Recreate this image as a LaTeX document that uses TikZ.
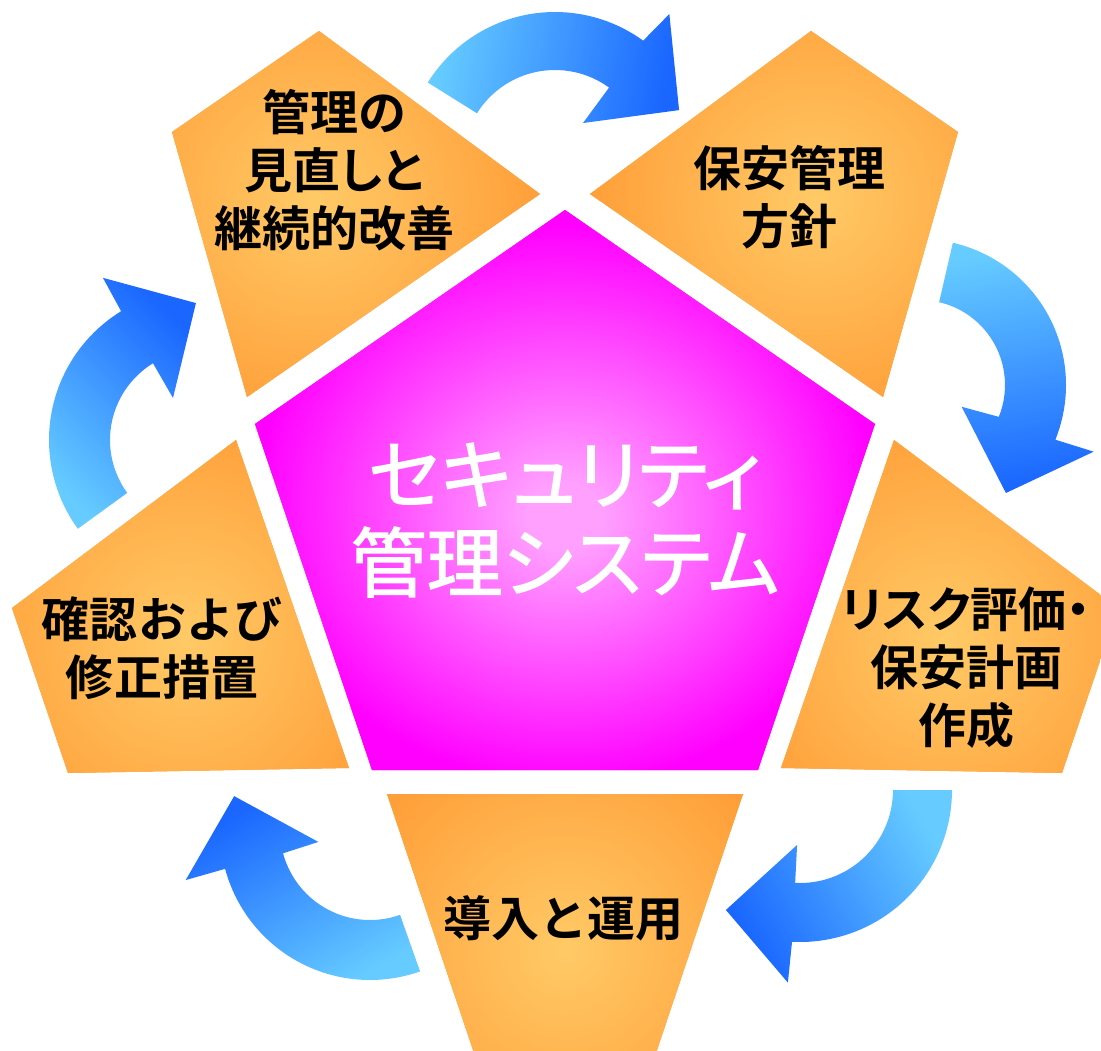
\documentclass[tikz,border=0pt]{standalone}
\usepackage{fontspec}
\newfontfamily\jpb{Noto Sans CJK JP Bold}
\newfontfamily\jpbp[RawFeature=+palt]{Noto Sans CJK JP Bold}
\newfontfamily\jpr[RawFeature=+palt, FakeBold=1.6]{Noto Sans CJK JP}
\usetikzlibrary{calc}
\definecolor{orL}{HTML}{FFCA66}
\definecolor{orD}{HTML}{FF9933}
\definecolor{mgL}{HTML}{FFA0FF}
\definecolor{mgD}{HTML}{FF00FF}
\definecolor{blL}{HTML}{66CCFF}
\definecolor{blD}{HTML}{1A66FF}
\pgfdeclareradialshading{glowor}{\pgfpoint{0bp}{0bp}}{color(0bp)=(orL); color(23bp)=(orD); color(50bp)=(orD)}
\pgfdeclareradialshading{glowmg}{\pgfpoint{0bp}{-2.5bp}}{color(0bp)=(mgL); color(3bp)=(mgL); color(25bp)=(mgD); color(50bp)=(mgD)}
\tikzset{
  lbl/.style={font=\jpb\fontsize{48bp}{58bp}\selectfont, align=center, text=black, inner sep=0pt},
  lblp/.style={lbl, font=\jpbp\fontsize{48bp}{58bp}\selectfont},
  titletext/.style={font=\jpr\fontsize{76bp}{88bp}\selectfont, align=center, text=white, inner sep=0pt},
  arrowshade/.style={top color=blL, bottom color=blD, shading angle=#1},
}
% #1 centre, #2 outer radius, #3 inner radius, #4 tail angle, #5 notch angle,
% #6 outer head corner, #7 inner head corner, #8 tip, #9 shading angle
\newcommand\cyclearrow[9]{%
  \shade[arrowshade=#9] ($#1+(#4:#2)$) arc[start angle=#4, end angle=#5, radius=#2]
    -- ($#1+(#6)$) -- ($#1+(#8)$) -- ($#1+(#7)$) -- ($#1+(#5:#3)$)
    arc[start angle=#5, end angle=#4, radius=#3] -- cycle;}
\newcommand\orangepiece[2]{%
  \begin{scope}
    \clip #1 -- cycle;
    \fill[orD] (0,0) rectangle (1101,1051);
    \shade[shading=glowor] #2 circle (280);
  \end{scope}}
\begin{document}
\begin{tikzpicture}[x=1bp, y=-1bp]
\useasboundingbox (0,0) rectangle (1101,1051);
\fill[white] (0,0) rectangle (1101,1051);
\clip (0,0) rectangle (1101,1051);

% central pentagon
\fill[mgD] (565,210) -- (875,424) -- (758,770) -- (372,770) -- (255,424) -- cycle;
\shade[shading=glowmg] (565,210) -- (875,424) -- (758,770) -- (372,770) -- (255,424) -- cycle;

% orange pieces
\orangepiece{(319,31) -- (172,132) -- (247,397) -- (540,194)}{(314,200)}
\orangepiece{(811,31) -- (958,132) -- (883,397) -- (590,194)}{(816,200)}
\orangepiece{(894,440) -- (1118,608) -- (1062,773) -- (781,768)}{(946,640)}
\orangepiece{(387,794) -- (743,794) -- (653,1062) -- (477,1062)}{(565,950)}
\orangepiece{(236,440) -- (12,608) -- (68,773) -- (349,768)}{(184,640)}

% circular arrows
\cyclearrow{(555,162)}{150}{92}{212}{306}{307.7:187}{305.7:48}{337.3:134.5}{80}
\cyclearrow{(920,385)}{146}{85}{-77}{22}{21:186}{27.6:47}{51.5:138}{10}
\cyclearrow{(800,790)}{152}{93}{0}{93}{93.6:193}{93:55}{121.7:141}{-60}
\cyclearrow{(370,830)}{150}{90}{70.5}{165}{164.8:191}{167:53}{194:140}{-150}
\cyclearrow{(200,440)}{151}{90}{144}{238.5}{239.1:189}{237.3:50}{268.3:137}{135}

% texts
\node[titletext] (ctr) at (565,520) {セキュリティ\\管理システム};
\node[lblp] (tl) at (334,170) {管理の\\見直しと\\継続的改善};
\node[lbl] (tr) at (789,197) {保安管理\\方針};
\node[lblp] (rt) at (966,668) {リスク評価・\\保安計画\\作成};
\node[lbl] (bt) at (563,918) {導入と運用};
\node[lbl] (lf) at (162,648) {確認および\\修正措置};
\end{tikzpicture}
\end{document}
